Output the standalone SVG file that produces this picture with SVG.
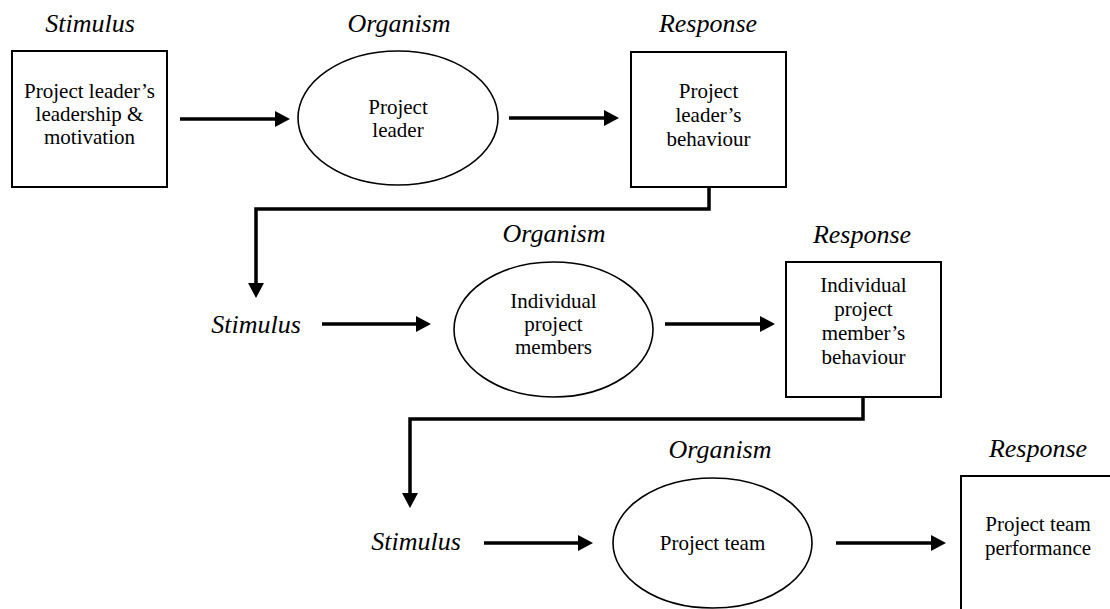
<svg xmlns="http://www.w3.org/2000/svg" width="1110" height="609" viewBox="0 0 1110 609">
  <defs>
    <!-- solid arrowhead; tip sits 10px beyond the line end -->
    <marker id="arrow" markerUnits="userSpaceOnUse" markerWidth="16" markerHeight="16" refX="5" refY="8" orient="auto">
      <path d="M0,0 L15,8 L0,16 z" fill="#000"/>
    </marker>
    <style>
      text { fill: #000; text-anchor: middle; }
      .head { font-style: italic; font-size: 26px; }
      .body { font-size: 21px; }
      .box { fill: #fff; stroke: #000; stroke-width: 2; }
      .oval { fill: #fff; stroke: #000; stroke-width: 1.6; }
      .link { fill: none; stroke: #000; stroke-width: 3.5; stroke-linejoin: miter; marker-end: url(#arrow); }
    </style>
  </defs>
  <rect width="1110" height="609" fill="#fff"/>

  <g font-family="Liberation Serif, Times New Roman, serif">
  <!-- stage labels -->
  <g id="labels">
    <text class="head" x="90" y="32">Stimulus</text>
    <text class="head" x="399" y="32">Organism</text>
    <text class="head" x="708" y="32">Response</text>
    <text class="head" x="256" y="333">Stimulus</text>
    <text class="head" x="554" y="242">Organism</text>
    <text class="head" x="862" y="243">Response</text>
    <text class="head" x="416" y="550">Stimulus</text>
    <text class="head" x="720" y="458">Organism</text>
    <text class="head" x="1038" y="457">Response</text>
  </g>

  <!-- row 1 -->
  <g id="leader-stimulus">
    <rect class="box" x="12" y="51" width="155" height="136"/>
    <text class="body" x="89.5" y="98">Project leader’s</text>
    <text class="body" x="89.5" y="121">leadership &amp;</text>
    <text class="body" x="89.5" y="144">motivation</text>
  </g>
  <g id="leader-organism">
    <ellipse class="oval" cx="398" cy="118" rx="100" ry="67"/>
    <text class="body" x="398" y="114">Project</text>
    <text class="body" x="398" y="137">leader</text>
  </g>
  <g id="leader-response">
    <rect class="box" x="631" y="52" width="155" height="135"/>
    <text class="body" x="708.5" y="98">Project</text>
    <text class="body" x="708.5" y="122">leader’s</text>
    <text class="body" x="708.5" y="146">behaviour</text>
  </g>

  <!-- row 2 -->
  <g id="members-organism">
    <ellipse class="oval" cx="553.5" cy="329.5" rx="99.5" ry="67.5"/>
    <text class="body" x="553.5" y="308">Individual</text>
    <text class="body" x="553.5" y="331">project</text>
    <text class="body" x="553.5" y="354">members</text>
  </g>
  <g id="members-response">
    <rect class="box" x="786" y="262" width="155" height="135"/>
    <text class="body" x="863.5" y="292">Individual</text>
    <text class="body" x="863.5" y="316">project</text>
    <text class="body" x="863.5" y="340">member’s</text>
    <text class="body" x="863.5" y="364">behaviour</text>
  </g>

  <!-- row 3 -->
  <g id="team-organism">
    <ellipse class="oval" cx="712.5" cy="543" rx="99.5" ry="65"/>
    <text class="body" x="712.5" y="550">Project team</text>
  </g>
  <g id="team-response">
    <rect class="box" x="961" y="476" width="180" height="160"/>
    <text class="body" x="1038" y="531">Project team</text>
    <text class="body" x="1038" y="555">performance</text>
  </g>
  </g>

  <!-- connectors -->
  <g id="connectors">
    <path class="link" d="M180,119 H280"/>
    <path class="link" d="M509,118 H609"/>
    <path class="link" d="M709,187 V209 H256 V288"/>
    <path class="link" d="M322,324 H421"/>
    <path class="link" d="M665,324 H765"/>
    <path class="link" d="M863,397 V419 H410 V498"/>
    <path class="link" d="M484,543 H583"/>
    <path class="link" d="M836,543 H936"/>
  </g>
</svg>
